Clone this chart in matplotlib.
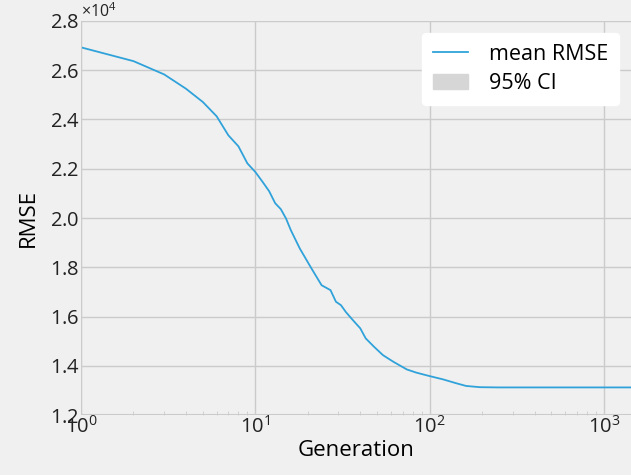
import matplotlib.pyplot as plt
import numpy as np
from matplotlib.patches import Patch

# mean RMSE per generation
gen = [1, 2, 3, 4, 5, 6, 7, 8, 9, 10, 11, 12, 13, 14, 15, 16, 18, 21, 24, 27, 29,
       31, 33, 36, 40, 43, 48, 54, 62, 74, 84, 100, 119, 142, 162, 194, 250, 500, 1000, 1430]
rmse = [26930, 26370, 25830, 25250, 24710, 24130, 23360, 22910, 22220, 21870, 21470,
        21090, 20600, 20360, 19980, 19500, 18760, 17950, 17270, 17070, 16600,
        16460, 16190, 15880, 15520, 15110, 14770, 14430, 14160, 13850, 13720,
        13580, 13450, 13290, 13180, 13130, 13120, 13120, 13120, 13120]

plt.rcParams['font.family'] = ['Open Sans', 'DejaVu Sans']
plt.rcParams['mathtext.fontset'] = 'custom'
plt.rcParams['mathtext.rm'] = 'Open Sans'

fig = plt.figure(figsize=(6.31, 4.75), dpi=100, facecolor='#f0f0f0')
ax = fig.add_axes([0.1284, 0.1263, 0.8716, 0.8295])
ax.set_facecolor('#f0f0f0')

line, = ax.plot(gen, rmse, color='#30a2da', lw=1.3)

ax.set_xscale('log')
ax.set_xlim(1, 1430)
ax.set_ylim(12000, 28000)
ax.ticklabel_format(axis='y', style='sci', scilimits=(0, 0), useMathText=True)
ax.yaxis.get_offset_text().set_fontsize(11.5)

ax.grid(True, which='major', color='#cbcbcb', lw=1)
ax.set_axisbelow(True)
for s in ax.spines.values():
    s.set_visible(False)
ax.tick_params(which='major', length=0, labelsize=14.5, colors='#222222', pad=1)
ax.tick_params(axis='x', which='minor', direction='in', length=3, color='#cbcbcb')
ax.axhline(12000, color='#cbcbcb', lw=1.5)
ax.axvline(1, color='#cbcbcb', lw=1.5)

ax.set_xlabel('Generation', fontsize=16, labelpad=1)
ax.set_ylabel('RMSE', fontsize=16, labelpad=8)

ci = Patch(color='#d6d6d6')
leg = ax.legend([line, ci], ['mean RMSE', '95% CI'], loc='upper right',
                fontsize=15.5, frameon=True, facecolor='white', edgecolor='white',
                framealpha=1, borderaxespad=0.55, handlelength=1.6,
                handletextpad=1.0, labelspacing=0.4, borderpad=0.5)

fig.savefig('out.png', dpi=100, facecolor=fig.get_facecolor())
